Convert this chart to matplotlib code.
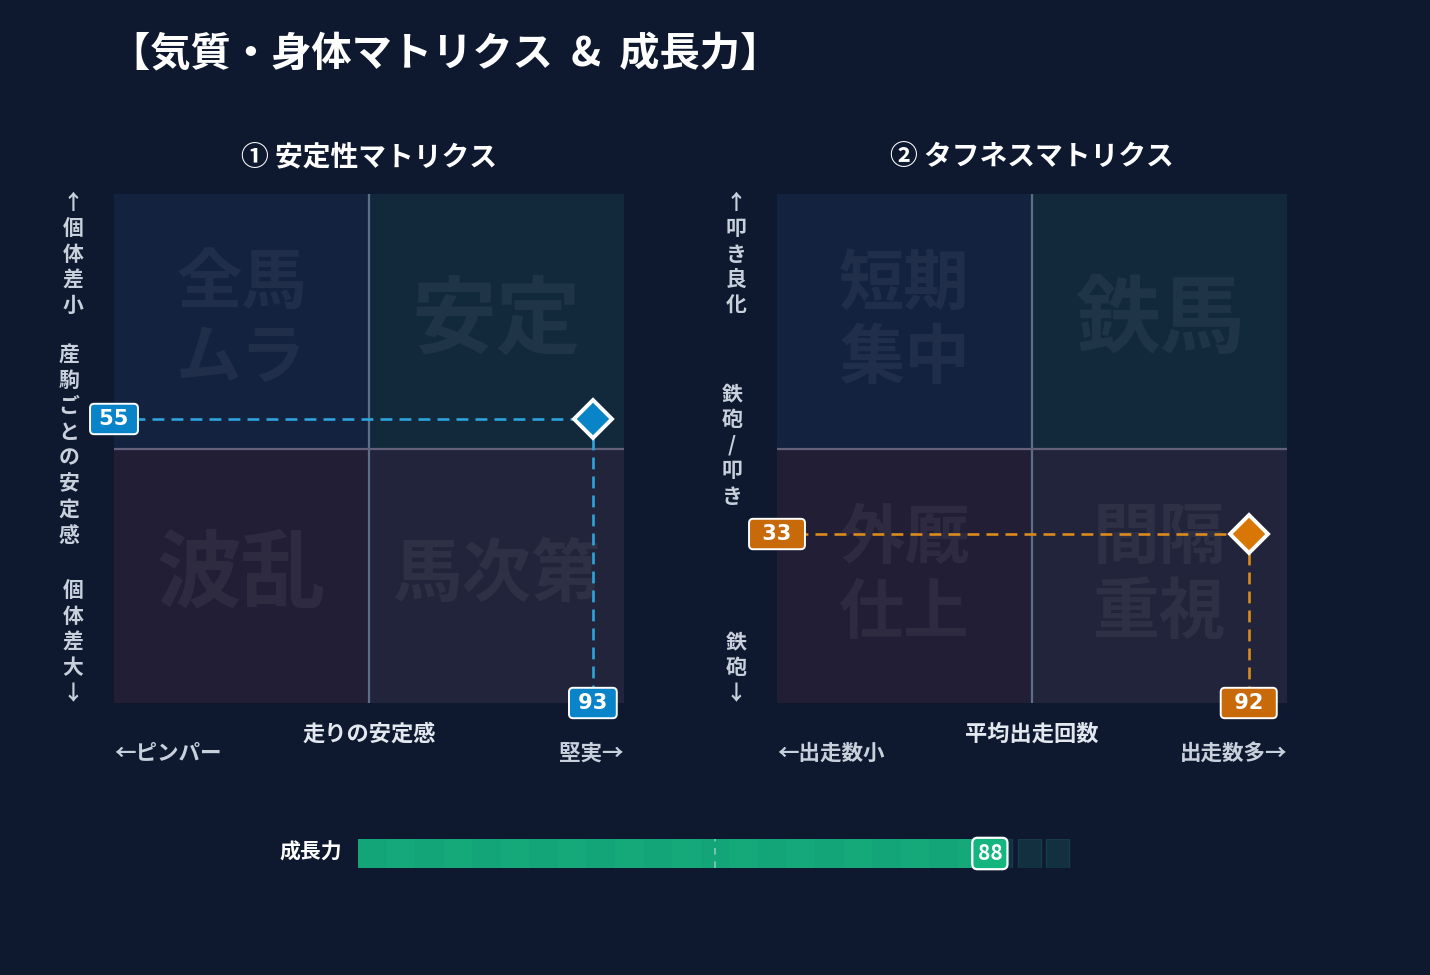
import matplotlib
matplotlib.use("Agg")
import matplotlib.pyplot as plt
from matplotlib.patches import Rectangle

plt.rcParams['font.family'] = ['Noto Sans CJK JP', 'DejaVu Sans']

# donnees
titre = "【気質・身体マトリクス  &  成長力】"
titres_mat = ["① 安定性マトリクス", "② タフネスマトリクス"]
quadrants = [
    ["全馬\nムラ", "安定", "波乱", "馬次第"],
    ["短期\n集中", "鉄馬", "外厩\n仕上", "間隔\n重視"],
]
tailles_quad = [[47, 61, 61, 50], [47, 61, 47, 48]]
x_labels = ["走りの安定感", "平均出走回数"]
x_gauche = ["←ピンパー", "←出走数小"]
x_droite = ["堅実→", "出走数多→"]
y_haut = ["↑\n個\n体\n差\n小", "↑\n叩\nき\n良\n化"]
y_milieu = ["産\n駒\nご\nと\nの\n安\n定\n感", "鉄\n砲\n/\n叩\nき"]
y_bas = ["個\n体\n差\n大\n↓", "鉄\n砲\n↓"]
# positions, etiquettes = valeur tronquee
points_x = [93.9, 92.5]
points_y = [55.8, 33.2]
couleurs = ["#0a84c8", "#d97706"]
couleurs_tiret = ["#2ea3dc", "#da8b1c"]
couleurs_box = ["#0a84c8", "#c8690a"]

croissance = 88
nb_segments = 25

W, H = 1430, 975
fond = "#0e1930"
quad_couleurs = ["#13223f", "#12283b", "#221e36", "#21243a"]

fig = plt.figure(figsize=(W / 100, H / 100), dpi=100)
fig.patch.set_facecolor(fond)


def boite(px, py, pw, ph):
    return [px / W, 1 - (py + ph) / H, pw / W, ph / H]


fig.text(110 / W, 1 - 54 / H, titre, color="white", fontsize=29,
         fontweight="bold", ha="left", va="center")

lefts = [114, 777]
for k in range(2):
    ax = fig.add_axes(boite(lefts[k], 194, 510, 509))
    ax.set_xlim(0, 100)
    ax.set_ylim(0, 100)
    ax.axis("off")
    pos = [(0, 50), (50, 50), (0, 0), (50, 0)]
    for q in range(4):
        ax.add_patch(Rectangle(pos[q], 50, 50, facecolor=quad_couleurs[q],
                               edgecolor="none", zorder=0))
        ax.text(pos[q][0] + 25, pos[q][1] + 25, quadrants[k][q],
                fontsize=tailles_quad[k][q], fontweight="bold",
                color="white", alpha=0.06, ha="center", va="center",
                linespacing=1.15, zorder=1)
    ax.axvline(50, color="#5c6f86", lw=1.6, zorder=2)
    ax.axhline(50, color="#645f7b", lw=1.6, zorder=2)

    px, py = points_x[k], points_y[k]
    ax.plot([0, px], [py, py], color=couleurs_tiret[k], lw=1.9,
            dashes=(4.5, 2.7), zorder=3, clip_on=False)
    ax.plot([px, px], [py, 0], color=couleurs_tiret[k], lw=1.9,
            dashes=(4.5, 2.7), zorder=3, clip_on=False)
    ax.plot(px, py, marker="D", ms=19.5, mfc=couleurs[k], mec="white",
            mew=2.8, zorder=5, clip_on=False)
    esp = "\u2009" if k == 0 else "\u2009\u2009"
    for (tx, ty, v) in [(0, py, py), (px, 0, px)]:
        ax.text(tx, ty, esp + str(int(v)) + esp, fontsize=15, fontweight="bold",
                color="white", ha="center", va="center", family="DejaVu Sans",
                zorder=6, clip_on=False,
                bbox=dict(boxstyle="round,pad=0.25,rounding_size=0.2",
                          facecolor=couleurs_box[k], edgecolor="white", lw=1.4))

    cx = lefts[k] + 255
    fig.text(cx / W, 1 - 157 / H, titres_mat[k], color="white", fontsize=20,
             fontweight="bold", ha="center", va="center")
    fig.text(cx / W, 1 - 734 / H, x_labels[k], color="#e3e8ef", fontsize=16,
             fontweight="bold", ha="center", va="center")
    fig.text(lefts[k] / W, 1 - 753 / H, x_gauche[k], color="#c8d0dc",
             fontsize=15.5, fontweight="bold", ha="left", va="center")
    fig.text((lefts[k] + 510) / W, 1 - 753 / H, x_droite[k], color="#c8d0dc",
             fontsize=15.5, fontweight="bold", ha="right", va="center")

    yx = lefts[k] - 41
    fig.text(yx / W, 1 - 192 / H, y_haut[k], color="#c8d0dc", fontsize=15,
             fontweight="bold", ha="center", va="top", linespacing=1.28)
    fig.text((yx - 4) / W, 1 - 445 / H, y_milieu[k], color="#c8d0dc",
             fontsize=15, fontweight="bold", ha="center", va="center",
             linespacing=1.28)
    fig.text(yx / W, 1 - 704 / H, y_bas[k], color="#c8d0dc", fontsize=15,
             fontweight="bold", ha="center", va="bottom", linespacing=1.28)

# barre de croissance
axb = fig.add_axes(boite(358, 839, 714, 29))
axb.set_xlim(0, 100)
axb.set_ylim(0, 1)
axb.axis("off")
larg = 100 / nb_segments
for i in range(nb_segments):
    x0 = i * larg
    if x0 + larg <= croissance:
        c = "#13a577" if i % 2 == 0 else "#15a97a"
        axb.add_patch(Rectangle((x0, 0), larg, 1, facecolor=c, edgecolor="none"))
    else:
        axb.add_patch(Rectangle((x0 + 0.4, 0), larg - 0.8, 1, facecolor="#12303f",
                                edgecolor="#173b49", lw=1))
axb.axvline(50, color="white", alpha=0.45, lw=1.2, dashes=(4, 4))
axb.text(croissance + 0.5, 0.5, str(croissance), fontsize=15, fontweight="bold",
         color="white", ha="center", va="center", zorder=6,
         bbox=dict(boxstyle="round,pad=0.25,rounding_size=0.25",
                   facecolor="#14b57f", edgecolor="white", lw=1.6))
fig.text(342 / W, 1 - 852 / H, "成長力", color="white", fontsize=15,
         fontweight="bold", ha="right", va="center")

fig.savefig("out.png", dpi=100, facecolor=fond)
